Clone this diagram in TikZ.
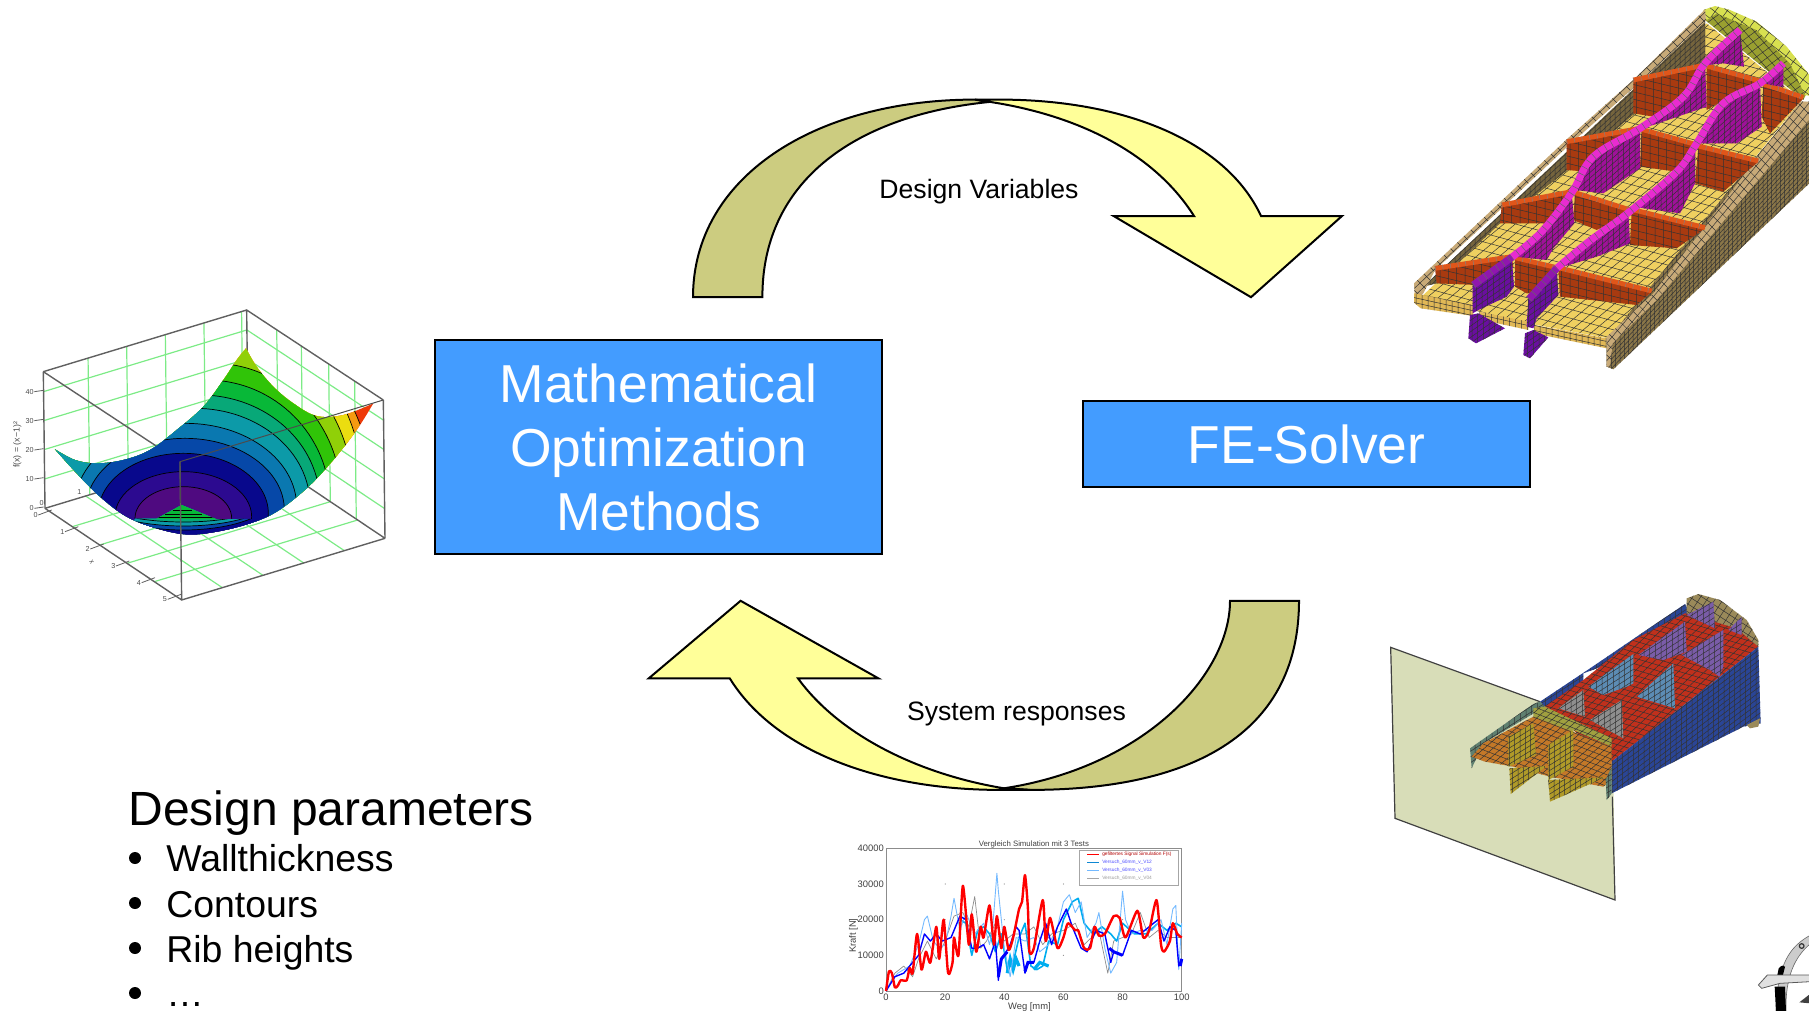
\documentclass[tikz,border=0pt]{standalone}
\usepackage{fontspec}
\setmainfont{Liberation Sans}
\usetikzlibrary{calc}
\definecolor{boxblue}{HTML}{439CFF}
\definecolor{arrowdark}{HTML}{CCCC80}
\definecolor{arrowlight}{HTML}{FFFF99}
\definecolor{gridgreen}{HTML}{7CEB86}
\definecolor{boxgray}{HTML}{606060}
\definecolor{c01}{HTML}{4F0A80}\definecolor{c02}{HTML}{2C0A90}\definecolor{c03}{HTML}{08088C}
\definecolor{c04}{HTML}{0648A8}\definecolor{c05}{HTML}{0A78B0}\definecolor{c06}{HTML}{0C9AA8}
\definecolor{c07}{HTML}{08A878}\definecolor{c08}{HTML}{08B838}\definecolor{c09}{HTML}{30C408}
\definecolor{c10}{HTML}{90D008}\definecolor{c11}{HTML}{EBDD10}\definecolor{c12}{HTML}{F59A10}
\definecolor{c13}{HTML}{EE3A08}
\definecolor{ribred}{HTML}{A83A10}\definecolor{riborange}{HTML}{E0561A}
\definecolor{sparweb}{HTML}{A0109A}\definecolor{sparfront}{HTML}{6A0EA0}\definecolor{sparmag}{HTML}{E82CD0}
\definecolor{floory}{HTML}{EFD060}\definecolor{walltan}{HTML}{C8AA78}\definecolor{wallbrown}{HTML}{8A7648}
\definecolor{capolive}{HTML}{9AA030}\definecolor{capyellow}{HTML}{D8E050}
\definecolor{planefill}{HTML}{D8DDB8}\definecolor{mblue}{HTML}{2A4596}\definecolor{mred}{HTML}{C0301C}
\definecolor{mpurple}{HTML}{7A5CA8}\definecolor{msteel}{HTML}{5C8CB4}\definecolor{mgrey}{HTML}{8E8E8E}
\definecolor{mtan}{HTML}{9A8A5A}\definecolor{tteal}{HTML}{5F8070}\definecolor{tolive}{HTML}{A0A040}
\definecolor{torange}{HTML}{C47828}\definecolor{tyellow}{HTML}{B09A28}
\tikzset{
  solverbox/.style={draw=black,fill=boxblue,line width=1.1pt,text=white,align=center,inner sep=0,
    font=\fontsize{26.7}{32}\selectfont},
  bigarrow/.style={draw=black,line width=1pt,line join=miter},
  lab/.style={inner sep=0,anchor=base west,font=\fontsize{#1}{#1}\selectfont},
  centerlab/.style={inner sep=0,font=\fontsize{#1}{#1}\selectfont},
  gridline/.style={gridgreen,line width=.6pt},
  plotbox/.style={boxgray,line width=.7pt},
  meshline/.style={black!80,line width=.24pt},
  contour/.style={black,line width=.35pt},
  bulletdot/.style={fill=black,circle,minimum size=6pt,inner sep=0},
  ticklab/.style={inner sep=0,text=black!70,font=\fontsize{3.6}{4}\selectfont},
  chartlab/.style={inner sep=0,text=black!75,font=\fontsize{4.7}{5}\selectfont},
}
\def\femn{30}
\def\parseu#1,#2\relax{\def\ux{#1}\def\uy{#2}}
\def\parsev#1,#2\relax{\def\vx{#1}\def\vy{#2}}
% fill, polygon path, centre, u, v
\newcommand{\fem}[5]{%
  \begin{scope}
    \fill[#1] #2;
    \clip #2;
    \parseu#4\relax\parsev#5\relax
    \begin{scope}[shift={(#3)},x={({\ux*.5pt},{-\uy*.5pt})},y={({\vx*.5pt},{-\vy*.5pt})}]
      \draw[meshline] \foreach \i in {-\femn,...,\femn}{(\i,-\femn)--(\i,\femn) (-\femn,\i)--(\femn,\i)};
    \end{scope}
  \end{scope}}
\newcommand{\gridwall}[6]{%
  \foreach \s in {#5}{\draw[gridline] ($(#1)!\s!(#2)$) -- ($(#3)!\s!(#4)$);}
  \foreach \t in {#6}{\draw[gridline] ($(#1)!\t!(#3)$) -- ($(#2)!\t!(#4)$);}}
% band: cx cy rx ry color: half ellipse plus everything left of it
\newcommand{\bandR}[5]{%
  \fill[#5] (#1-2000,#2-#4) -- (#1,#2-#4) arc[start angle=-90,end angle=90,x radius=#3,y radius=#4] -- (#1-2000,#2+#4) -- cycle;
  \draw[contour] (#1,#2-#4) arc[start angle=-90,end angle=90,x radius=#3,y radius=#4];}
\newcommand{\bandE}[5]{%
  \filldraw[contour,fill=#5] (#1,#2) ellipse [x radius=#3,y radius=#4];}
\newcommand{\sparstrip}[2]{%
  \draw[#1,line width=3.6pt,line cap=butt] plot[smooth,tension=.6] coordinates {#2};
  \draw[black!60,line width=3.6pt,dash pattern=on .25pt off 3.4pt] plot[smooth,tension=.6] coordinates {#2};}
\newcommand{\ribstrip}[2]{%
  \draw[riborange,line width=2.4pt] #1 -- #2;
  \draw[black!50,line width=2.4pt,dash pattern=on .25pt off 3.6pt] #1 -- #2;}
\begin{document}
\begin{tikzpicture}[x=.5pt,y=-.5pt]
\useasboundingbox (0,0) rectangle (1809,1011);

% ---------- curved arrows
\draw[bigarrow,fill=arrowdark] (693,297.2) .. controls (693,177.2) and (815,99.6) .. (975,99.6) -- (990,101.9)
  .. controls (850,115.7) and (762,184.9) .. (762.4,297.2) -- cycle;
\draw[bigarrow,fill=arrowlight] (990,101.9) .. controls (1080,115.7) and (1155,154.2) .. (1194,216)
  -- (1113.6,216) -- (1251,297.2) -- (1342,216) -- (1261,216)
  .. controls (1225,138.8) and (1120,99.6) .. (1000,99.6) -- (975,99.6) -- cycle;
\draw[bigarrow,fill=arrowdark] (1299,600.8) .. controls (1299,728.4) and (1200,789.9) .. (1030,789.9) -- (1004,788.3)
  .. controls (1145,766.8) and (1230,674.6) .. (1230,600.8) -- cycle;
\draw[bigarrow,fill=arrowlight] (1004,788.3) .. controls (920,774.5) and (840,736) .. (798,678.4)
  -- (878.5,678.4) -- (740.6,600.8) -- (648.7,678.4) -- (729.8,678.4)
  .. controls (775,751.4) and (880,789.9) .. (1000,789.9) -- (1030,789.9) -- cycle;

\node[centerlab=13.3] (dv) at (979,192) {Design Variables};
\node[centerlab=13.3] (sr) at (1016.5,714) {System responses};

% ---------- solver boxes
\node[solverbox,minimum width=223.5pt,minimum height=107pt] (opt) at (658.5,447)
  {Mathematical\\Optimization\\Methods};
\node[solverbox,minimum width=223.5pt,minimum height=43pt] (fe) at (1306.5,444) {FE-Solver};

% ---------- design parameter text
\node[lab=24] (dp) at (128,825) {Design parameters};
\node[bulletdot] (b1) at (135,858) {};
\node[bulletdot] (b2) at (135,903) {};
\node[bulletdot] (b3) at (135,948) {};
\node[bulletdot] (b4) at (135,993) {};
\node[lab=18.7] (p1) at (166,871.5) {Wallthickness};
\node[lab=18.7] (p2) at (166,917) {Contours};
\node[lab=18.7] (p3) at (166,962) {Rib heights};
\node[lab=18.7] (p4) at (166,1006) {…};

% ---------- surface plot (coords of 3x crop at 0,290)
\begin{scope}[shift={(0,290)},scale=1/3]
  \coordinate (A) at (130,245); \coordinate (B) at (740,60); \coordinate (C) at (1150,330); \coordinate (D) at (540,515);
  \coordinate (Ab) at (135,655); \coordinate (Bb) at (745,470); \coordinate (Cb) at (1155,745); \coordinate (Db) at (545,930);
  \gridwall{A}{B}{Ab}{Bb}{.22,.41,.6,.79,.975}{.146,.358,.57,.785}
  \gridwall{B}{C}{Bb}{Cb}{.22,.4,.6,.79}{.146,.358,.57,.785}
  \gridwall{Ab}{Bb}{Db}{Cb}{.2,.4,.6,.8}{.2,.4,.6,.8}
  \draw[plotbox] (A) -- (B) -- (C) (B) -- (Bb) (Ab) -- (Bb) -- (Cb);
  \draw[plotbox] (A) -- ($(A)!.85!(D)$);
  \def\surf{plot[smooth,tension=.6] coordinates {(165,478)(225,510)(290,520)(370,510)(450,480)(530,420)(610,350)(670,270)(710,210)(738,175)}
    -- plot[smooth,tension=.6] coordinates {(738,175)(770,230)(820,290)(880,340)(950,378)(1030,375)(1120,340)}
    -- plot[smooth,tension=.6] coordinates {(1120,340)(1070,420)(1000,510)(920,595)(830,665)(750,700)(650,725)(560,733)(470,715)(380,680)(300,620)(230,550)(165,478)} -- cycle}
  \begin{scope}
    \clip \surf;
    \fill[c13] (0,0) rectangle (1300,900);
    \bandR{720}{600}{395}{480}{c12}
    \bandR{690}{610}{400}{500}{c11}
    \bandR{660}{620}{400}{460}{c10}
    \bandR{640}{630}{385}{410}{c09}
    \bandR{620}{640}{370}{370}{c08}
    \bandR{600}{640}{360}{325}{c07}
    \bandR{585}{645}{345}{290}{c06}
    \bandE{557}{650}{333}{250}{c05}
    \bandE{555}{660}{298}{215}{c04}
    \bandE{550}{670}{255}{180}{c03}
    \bandE{550}{680}{205}{135}{c02}
    \bandE{550}{685}{145}{95}{c01}
    % front fold
    \begin{scope}
      \clip (405,686) -- (470,686) -- (545,645) -- (650,688) -- (780,686) -- (820,900) -- (300,900) -- cycle;
      \fill[c03] (300,640) rectangle (820,900);
      \filldraw[contour,fill=c04] (550,620) ellipse [x radius=270,y radius=100];
      \filldraw[contour,fill=c06] (550,620) ellipse [x radius=270,y radius=88];
      \filldraw[contour,fill=c07] (550,620) ellipse [x radius=270,y radius=76];
      \fill[c08] (470,686) -- (545,645) -- (650,688) -- cycle;
      \draw[contour] (520,660) -- (575,660) (495,672) -- (605,672) (475,682) -- (640,682);
    \end{scope}
  \end{scope}
  \draw[black!70,line width=.5pt] (D) -- (C);
  \draw[plotbox] (D) -- (Db) (A) -- (Ab) (C) -- (Cb) (Ab) -- (Db) -- (Cb);
  \draw[black!70,line width=.5pt] (D) -- ($(D)!.3!(Db)$);
  % ticks
  \foreach \y/\v in {305/40,392/30,480/20,567/10,655/0}{
    \draw[boxgray,line width=.4pt] (103,\y) -- (131,\y-4);
    \node[ticklab,anchor=east] (zt\v) at (102,\y) {\v};}
  \foreach \x/\y/\v in {107/675/0,187/725/1,263/777/2,340/828/3,417/878/4,495/928/5}{
    \draw[boxgray,line width=.4pt] (\x+8,\y) -- (\x+48,\y-15);
    \node[ticklab,anchor=center] (yt\v) at (\x,\y) {\v};}
  \node[ticklab] (xz) at (125,640) {0};
  \node[ticklab] (xo) at (238,606) {1};
  \node[ticklab,rotate=-60] (ylab) at (275,815) {x};
  \node[inner sep=0,text=black!70,font=\fontsize{4.4}{5}\selectfont,rotate=90] (zlab) at (52,465) {f(x) = (x−1)²};
\end{scope}

% ---------- FE wing, top right (coords of 3x crop at 1390,0)
\begin{scope}[shift={(1390,0)},scale=1/3]
  \def\femn{45}
  \fem{wallbrown}{(650,1015) -- (650,1100) -- (670,1108) -- (1300,510) -- (1300,310) -- (1235,305) -- cycle}{950,700}{13,-14}{0,14}
  \fem{floory}{(100,885) -- (950,70) -- (1235,300) -- (655,1015) -- (440,975) -- (270,935) -- (105,905) -- cycle}{600,600}{24,-20}{26,7}
  \fem{capolive}{(945,60) -- (975,30) -- (1100,80) -- (1200,170) -- (1250,280) -- (1240,300) -- cycle}{1100,170}{18,-13}{14,16}
  \fem{capyellow}{(940,30) -- (975,18) -- (1020,30) -- (1100,65) -- (1190,140) -- (1270,240) -- (1270,290) -- (1245,285) -- (1200,190) -- (1100,90) -- (980,40) -- (950,60) -- cycle}{1100,100}{22,17}{15,-20}
  \fem{wallbrown!85!black}{(100,860) -- (945,65) -- (945,180) -- (735,340) -- (520,520) -- (330,670) -- (140,850) -- cycle}{540,450}{15,-14}{0,16}
  \fem{walltan}{(72,850) -- (530,418) -- (735,235) -- (945,28) -- (948,62) -- (740,255) -- (532,440) -- (335,625) -- (135,810) -- (100,880) -- (75,905) -- cycle}{510,450}{20,-19}{12,12}
  \fem{floory!70!brown}{(72,880) -- (100,885) -- (250,915) -- (250,948) -- (92,925) -- (72,908) -- cycle}{150,910}{18,4}{0,15}
  \fem{floory!70!brown}{(268,935) -- (415,965) -- (415,990) -- (268,958) -- cycle}{340,960}{18,4}{0,15}
  \fem{floory!70!brown}{(432,975) -- (650,1015) -- (650,1045) -- (432,1000) -- cycle}{540,1000}{18,4}{0,15}
  \fem{walltan}{(650,1010) -- (790,880) -- (1230,305) -- (1257,305) -- (1300,310) -- (800,900) -- (668,1030) -- (660,1100) -- (650,1100) -- cycle}{950,700}{16,-19}{12,12}
  \def\femn{14}
  % ribs back to front
  \foreach \pts/\cen in {
    {(730,240) -- (945,195) -- (945,300) -- (790,350) -- (730,340) -- cycle}/{840,280},
    {(950,200) -- (1110,245) -- (1000,300) -- (950,330) -- cycle}/{1010,260},
    {(1120,255) -- (1240,295) -- (1140,400) -- (1115,350) -- cycle}/{1170,320},
    {(530,425) -- (750,385) -- (745,450) -- (590,515) -- (530,510) -- cycle}/{640,450},
    {(755,390) -- (915,435) -- (915,470) -- (860,515) -- (750,500) -- cycle}/{830,450},
    {(925,440) -- (1105,485) -- (1000,575) -- (915,550) -- cycle}/{1000,500},
    {(335,615) -- (545,575) -- (545,620) -- (500,670) -- (330,670) -- cycle}/{440,620},
    {(555,580) -- (715,630) -- (720,640) -- (620,690) -- (550,660) -- cycle}/{630,630},
    {(725,630) -- (945,685) -- (860,745) -- (720,735) -- cycle}/{820,690},
    {(135,805) -- (365,770) -- (370,800) -- (260,855) -- (140,850) -- cycle}/{250,810},
    {(375,775) -- (500,805) -- (500,875) -- (410,880) -- (375,860) -- cycle}/{440,830},
    {(505,805) -- (785,875) -- (740,915) -- (510,890) -- cycle}/{640,860}}{
    \fem{ribred}{\pts}{\cen}{25,6}{0,22}
  }
  \ribstrip{(730,240)}{(945,195)}
  \ribstrip{(950,198)}{(1110,243)}
  \ribstrip{(1120,252)}{(1240,292)}
  \ribstrip{(530,425)}{(750,385)}
  \ribstrip{(755,388)}{(915,433)}
  \ribstrip{(925,438)}{(1105,483)}
  \ribstrip{(335,615)}{(545,575)}
  \ribstrip{(555,578)}{(715,628)}
  \ribstrip{(725,628)}{(945,683)}
  \ribstrip{(135,805)}{(365,770)}
  \ribstrip{(375,773)}{(500,803)}
  \ribstrip{(505,803)}{(785,873)}
  % spar webs
  \foreach \pts/\cen in {
    {(945,190) -- (1050,90) -- (1062,200) -- (1000,190) -- (955,195) -- cycle}/{1000,150},
    {(750,385) -- (880,290) -- (945,190) -- (950,320) -- (790,375) -- cycle}/{850,310},
    {(555,570) -- (600,480) -- (750,385) -- (750,505) -- (640,580) -- cycle}/{650,490},
    {(375,770) -- (455,690) -- (545,580) -- (553,670) -- (490,745) -- (470,780) -- cycle}/{470,690},
    {(1115,245) -- (1180,190) -- (1180,262) -- (1120,250) -- cycle}/{1150,230},
    {(925,430) -- (1000,310) -- (1110,250) -- (1115,380) -- (1040,430) -- cycle}/{1020,350},
    {(725,620) -- (810,570) -- (880,500) -- (915,440) -- (915,550) -- (870,640) -- cycle}/{830,550},
    {(505,800) -- (600,720) -- (715,635) -- (720,730) -- (620,770) -- (520,800) -- cycle}/{620,730}}{
    \fem{sparweb}{\pts}{\cen}{17,-15}{0,17}
  }
  \foreach \pts/\cen in {
    {(248,855) -- (365,770) -- (372,860) -- (350,890) -- (265,930) -- (248,940) -- cycle}/{310,850},
    {(240,945) -- (265,940) -- (345,985) -- (258,1030) -- (235,1015) -- cycle}/{280,985},
    {(415,895) -- (500,810) -- (505,885) -- (440,955) -- (430,985) -- (410,980) -- cycle}/{450,890},
    {(405,1000) -- (430,990) -- (475,1012) -- (420,1075) -- (400,1065) -- cycle}/{430,1030}}{
    \fem{sparfront}{\pts}{\cen}{17,-12}{0,17}
  }
  \sparstrip{sparmag}{(365,772)(455,695)(545,578)(610,470)(750,385)(880,290)(945,190)(1050,90)}
  \sparstrip{sparmag}{(500,805)(600,722)(715,638)(860,515)(920,430)(1000,310)(1110,250)(1180,190)}
  \sparstrip{sparfront!70!sparmag}{(250,855)(365,772)}
  \sparstrip{sparfront!70!sparmag}{(417,897)(500,805)}
\end{scope}

% ---------- plane + model, bottom right (coords of 3x crop at 1370,580)
\begin{scope}[shift={(1370,580)},scale=1/3]
  \fill[planefill] (62,202) -- (728,445) -- (735,960) -- (75,715) -- cycle;
  \draw[black!75,line width=.6pt] (510,365) -- (62,202) -- (75,715) -- (735,960) -- (727,650);
  \def\femn{40}
  \fem{mblue}{(510,365) -- (660,265) -- (945,72) -- (960,100) -- (795,180) -- (790,225) -- (640,280) -- (640,325) -- (525,380) -- cycle}{730,230}{17,-11}{0,16}
  \fem{mred}{(525,380) -- (640,300) -- (790,180) -- (945,100) -- (1100,130) -- (1165,200) -- (725,545) -- cycle}{850,320}{20,6}{14,-13}
  \def\femn{14}
  \foreach \pts/\cen in {
    {(805,225) -- (945,125) -- (950,215) -- (880,240) -- cycle}/{890,190},
    {(935,225) -- (1060,150) -- (1060,260) -- (1048,290) -- (1020,270) -- cycle}/{1000,220}}{
    \fem{mpurple}{\pts}{\cen}{17,-11}{0,17}
  }
  \foreach \pts/\cen in {
    {(655,320) -- (790,222) -- (790,310) -- (770,320) -- (700,345) -- cycle}/{730,290},
    {(800,350) -- (910,250) -- (915,385) -- cycle}/{870,320}}{
    \fem{msteel}{\pts}{\cen}{17,-11}{0,17}
  }
  \foreach \pts/\cen in {
    {(565,385) -- (640,330) -- (645,410) -- cycle}/{620,370},
    {(660,420) -- (755,360) -- (760,475) -- cycle}/{720,420}}{
    \fem{mgrey}{\pts}{\cen}{17,-11}{0,17}
  }
  \def\femn{25}
  \fem{mtan}{(950,55) -- (985,42) -- (1050,60) -- (1130,120) -- (1165,180) -- (1165,200) -- (1100,145) -- (950,100) -- cycle}{1050,110}{17,11}{11,-17}
  \fem{mpurple}{(950,105) -- (1030,65) -- (1035,145) -- cycle}{1000,100}{17,-11}{0,17}
  \fem{mpurple}{(1075,150) -- (1115,110) -- (1115,165) -- cycle}{1100,140}{17,-11}{0,17}
  \def\femn{40}
  \fem{mblue}{(725,545) -- (1165,200) -- (1172,430) -- (1120,440) -- (725,640) -- cycle}{950,420}{16,-12}{0,16}
  \fill[mtan] (1130,435) -- (1170,415) -- (1165,440) -- (1140,445) -- cycle;
  \def\femn{22}
  \fem{tteal}{(300,505) -- (490,372) -- (510,365) -- (525,380) -- (340,490) -- (305,565) -- cycle}{400,450}{17,-11}{0,17}
  \fem{tolive}{(490,385) -- (525,380) -- (725,475) -- (725,500) -- (610,450) -- (540,490) -- (490,425) -- cycle}{600,440}{18,7}{14,-12}
  \fem{torange}{(340,490) -- (490,410) -- (725,500) -- (725,600) -- (700,620) -- (540,590) -- (430,560) -- (345,545) -- (305,530) -- cycle}{520,510}{18,7}{14,-12}
  \fem{tyellow}{(415,470) -- (490,430) -- (498,525) -- (415,560) -- cycle}{450,500}{16,-10}{0,16}
  \fem{tyellow}{(535,495) -- (610,450) -- (610,560) -- (535,600) -- cycle}{570,520}{16,-10}{0,16}
  \fem{tyellow}{(418,565) -- (530,558) -- (422,642) -- cycle}{460,590}{16,-10}{0,16}
  \fem{tyellow}{(535,600) -- (705,592) -- (540,665) -- cycle}{600,620}{16,-10}{0,16}
  \fem{tteal}{(707,600) -- (725,560) -- (725,640) -- (710,660) -- cycle}{715,620}{16,-10}{0,16}
\end{scope}

% ---------- chart
\begin{scope}[shift={(886,991)},x={(2.957,0)},y={(0,-3.567)}]
  \foreach \x in {20,40,60,80}{\foreach \y in {10,20,30}{\fill[black!45] (\x,\y) circle [radius=.3pt];}}
  \draw[black!45,line width=.4pt] (0,0) rectangle (100,40);
  \draw[black!45,line width=.35pt,line join=round] plot coordinates {(0,0)(3,5)(6,7)(9,4)(11,9)(14,14)(17,9)(20,14)(23,21)(26,22)(28,18)(30,26.5)(32,12)(34,14)(37,19)(40,14)(43,16)(47,16)(50,18)(53,13)(56,16)(60,17)(64,19)(67,13)(72,17)(75,5)(77,14)(80,15)(83,16)(86,22)(89,15)(92,17)(95,15)(98,15)(100,15)};
  \draw[cyan,line width=.8pt,line join=round] plot coordinates {(25,20)(27,19)(29,10)(31,17)(33,18)(35,16)(37,11)(39,16)(41,6)(43,8)(45,15)(47,19)(49,7)(51,6)(53,7)(55,14)(58,13)(60,20)(63,25)(65,26)(67,19)(70,16)(73,18)(76,16)(78,14)(80,19)(84,16)(88,16)(92,19)(95,17)(98,19)(100,18)};
  \draw[cyan,line width=1.6pt] (41,5) -- (42,9) -- (43,6) -- (44,9) -- (45,7) (50,6) -- (52,8) -- (55,7);
  \draw[blue!50!cyan!55,line width=.45pt,line join=round] plot coordinates {(0,0)(2,3)(4,5)(8,7)(11,13)(13,20)(14,21)(16,14)(18,12)(20,13)(22,21)(23,26)(25,17)(27,22)(30,16)(33,19)(35,13)(36,17)(37.5,33)(38,28)(40,12)(42,4)(44,15)(47,14)(50,15)(52,11)(55,13)(58,18)(60,25)(62,27)(64,22)(66,25)(68,15)(71,19)(72,22)(74,12)(76,5)(78,8)(80,28)(81,20)(83,16)(86,17)(90,17)(93,20)(95,13)(97,23)(98,24)(99,6)(100,19)};
  \draw[blue,line width=.7pt,line join=round] plot coordinates {(0,0)(3,4)(6,5)(9,8)(11,10)(13,16)(15,14)(17,16)(19,14)(22,15)(25,21)(27,20)(29,12)(31,12)(33,13)(35,9)(37,14)(38,3)(38.5,8)(40,10)(42,13)(44,18)(45,17)(47,5)(48,8)(50,8)(52,14)(54,19)(56,13)(58,18)(61,23)(63,18)(66,12)(68,11)(71,17)(74,16)(76,8)(77,11)(80,10)(83,17)(86,16)(89,18)(92,20)(94,14)(96,18)(98,17)(99,7)(100,9)};
  \draw[blue,line width=1.5pt] (38,4) -- (39,9) -- (41,11) (47,5.5) -- (48,8) -- (50,8) (75.5,12) -- (77,11) -- (80,10) (99.5,7) -- (100,9);
  \draw[red,line width=1.2pt,line join=round] plot[smooth,tension=.4] coordinates {(0,0)(1,5.5)(2,5)(3,1)(4,1.5)(5,3)(7,3)(8,6.5)(9,5)(10.5,16)(12,6)(13.5,11)(15,8)(17,18)(18,9)(19.5,20)(21,5)(22.5,8)(23,15)(24.5,10)(26,29.5)(28,13)(29,21.5)(30.5,11)(32,18)(33,15)(35,24)(36.5,13)(37.5,21)(39,12)(40,18)(41.5,11.5)(43,15)(45,23)(46,25)(47,32.5)(48,23)(48.5,11)(50,12)(53,25.5)(54,14)(55.5,20.5)(58,12)(60,15)(61.5,19)(64,17)(65,17)(67,12)(69,12)(70.5,18)(72,15.5)(74,16)(77,21)(79,20.5)(81,15)(85,22.5)(87,15)(89,17)(91.5,25.5)(93,13)(94,11)(96,14)(97,19)(98.5,16)(100,15)};
  \foreach \v in {0,20,40,60,80,100}{\node[chartlab,anchor=north] (cx\v) at (\v,-.6) {\v};}
  \foreach \v/\t in {0/0,10/10000,20/20000,30/30000,40/40000}{\node[chartlab,anchor=east] (cy\v) at (-.6,\v) {\t};}
  \node[chartlab,rotate=90] (cyl) at (-11,15.5) {Kraft [N]};
  \node[chartlab,anchor=north] (cxl) at (48.5,-3.2) {Weg [mm]};
  \node[inner sep=0,text=black!75,font=\fontsize{3.9}{4}\selectfont] (ctitle) at (50,41.2) {Vergleich Simulation mit 3 Tests};
  \fill[white,draw=black!35,line width=.4pt] (65.5,39.3) rectangle (99,29.6);
  \draw[red,line width=.5pt] (68,38.2) -- (72,38.2);
  \draw[cyan!70!blue,line width=.5pt] (68,36) -- (72,36);
  \draw[blue!50!cyan!55,line width=.5pt] (68,33.8) -- (72,33.8);
  \draw[black!35,line width=.5pt] (68,31.5) -- (72,31.5);
  \node[inner sep=0,anchor=west,text=red!70!black,font=\fontsize{2.4}{3}\selectfont] (l1) at (73,38.2) {gefiltertes Signal Simulation F(s)};
  \node[inner sep=0,anchor=west,text=blue!70,font=\fontsize{2.4}{3}\selectfont] (l2) at (73,36) {Versuch\_60mm\_v\_V12};
  \node[inner sep=0,anchor=west,text=blue!70,font=\fontsize{2.4}{3}\selectfont] (l3) at (73,33.8) {Versuch\_60mm\_v\_V03};
  \node[inner sep=0,anchor=west,text=black!40,font=\fontsize{2.4}{3}\selectfont] (l4) at (73,31.5) {Versuch\_60mm\_v\_V04};
\end{scope}

% ---------- logo fragment, bottom right corner (coords of 3x crop at 1740,920)
\begin{scope}[shift={(1740,920)},scale=1/3]
  \filldraw[fill=black!20,draw=black!60,line width=.3pt] (210,46) .. controls (150,80) and (112,130) .. (108,275) -- (138,275) .. controls (135,170) and (165,110) .. (210,72) -- cycle;
  \fill[black] (116,145) .. controls (125,135) and (130,135) .. (135,140) -- (128,168) -- (112,165) -- cycle;
  \fill[black] (104,200) -- (135,200) -- (138,275) -- (108,275) -- cycle;
  \filldraw[fill=black!12,draw=black!65,line width=.4pt] (55,195) -- (82,165) -- (210,165) -- (210,185) -- (120,190) -- (65,205) -- cycle;
  \draw[black!80,line width=.6pt] (185,78) circle [radius=7];
  \fill[black!75] (178,247) -- (210,222) -- (210,250) -- cycle;
\end{scope}
\end{tikzpicture}
\end{document}
